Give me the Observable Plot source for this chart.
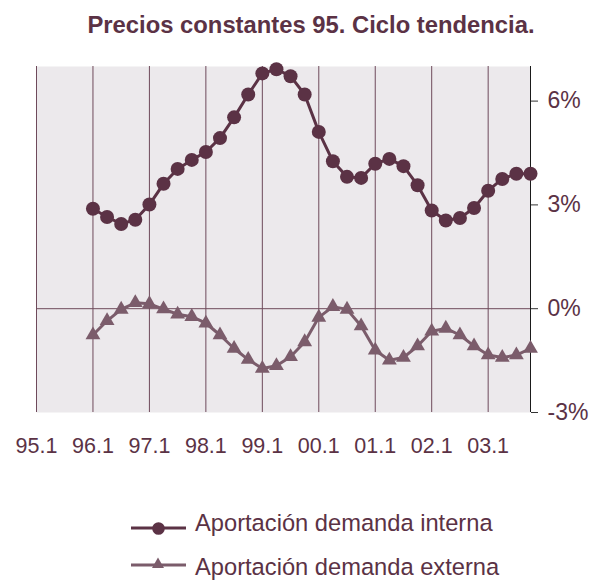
<!DOCTYPE html>
<html>
<head>
<meta charset="utf-8">
<script src="https://cdn.jsdelivr.net/npm/d3@7"></script>
<script src="https://cdn.jsdelivr.net/npm/@observablehq/plot@0.6"></script>
<style>
  html, body { margin: 0; padding: 0; background: #ffffff; }
  #wrap { position: relative; width: 591px; height: 581px; font-family: "Liberation Sans", Arial, sans-serif; }
  #wrap svg { position: absolute; left: 0; top: 0; }
</style>
</head>
<body>
<div id="wrap"></div>
<script>
const title = "Precios constantes 95. Ciclo tendencia.";
const xTickLabels = ["95.1","96.1","97.1","98.1","99.1","00.1","01.1","02.1","03.1"];
const yTicks = [-3, 0, 3, 6];
const seriesNames = ["Aportación demanda interna", "Aportación demanda externa"];
// quarterly values from 96.1 to 03.4
const interna = [2.89, 2.65, 2.45, 2.57, 3.01, 3.61, 4.04, 4.30, 4.53, 4.93, 5.53, 6.19,
                 6.80, 6.92, 6.72, 6.19, 5.11, 4.26, 3.81, 3.78, 4.19, 4.33, 4.12, 3.57,
                 2.84, 2.55, 2.62, 2.91, 3.41, 3.75, 3.90, 3.90];
const externa = [-0.76, -0.35, -0.02, 0.17, 0.14, -0.01, -0.16, -0.23, -0.42, -0.76, -1.15, -1.47,
                 -1.73, -1.65, -1.39, -0.96, -0.25, 0.06, -0.02, -0.50, -1.20, -1.49, -1.41, -1.08,
                 -0.65, -0.57, -0.76, -1.08, -1.34, -1.41, -1.34, -1.15];

const firstQuarter = 4; // 96.1 is the 5th quarter after 95.1
const lastQuarter = 35; // 03.4
const cInt = "#5b3245", cExt = "#7b5c6b", cText = "#5b3245", cGrid = "#6e4a5b", bg = "#ece9ec";

const dInt = interna.map((v, i) => ({q: firstQuarter + i, v}));
const dExt = externa.map((v, i) => ({q: firstQuarter + i, v}));
const yearTicks = xTickLabels.map((_, i) => i * 4);

const chart = Plot.plot({
  width: 591, height: 581,
  marginLeft: 36, marginRight: 61, marginTop: 66, marginBottom: 169,
  style: {fontFamily: '"Liberation Sans", Arial, sans-serif', background: "transparent"},
  x: {domain: [0, lastQuarter], axis: null},
  y: {domain: [-3, 7], axis: null},
  marks: [
    Plot.frame({fill: bg, stroke: null}),
    Plot.ruleX(yearTicks, {stroke: cGrid, strokeWidth: 1}),
    Plot.ruleY([0], {stroke: cGrid, strokeWidth: 1}),
    Plot.ruleX([lastQuarter], {stroke: "#1a1a1a", strokeWidth: 1}),
    Plot.axisY({anchor: "right", ticks: yTicks, tickFormat: d => d + "%", tickSize: 7, tickPadding: 10,
                fontSize: 23, fill: cText, stroke: "#333", label: null}),
    Plot.axisX({ticks: yearTicks, tickFormat: d => xTickLabels[d / 4], tickSize: 0, tickPadding: 25,
                fontSize: 21.5, fill: cText, label: null}),
    Plot.line(dExt, {x: "q", y: "v", stroke: cExt, strokeWidth: 3}),
    Plot.dot(dExt, {x: "q", y: "v", symbol: "triangle", r: 5.5, fill: cExt, stroke: "none"}),
    Plot.line(dInt, {x: "q", y: "v", stroke: cInt, strokeWidth: 3}),
    Plot.dot(dInt, {x: "q", y: "v", r: 7, fill: cInt, stroke: "none"})
  ]
});
const wrap = document.getElementById("wrap");
wrap.appendChild(chart);

// title and legend overlay
const ov = d3.select(wrap).append("svg").attr("width", 591).attr("height", 581)
  .style("font-family", '"Liberation Sans", Arial, sans-serif');
ov.append("text").attr("x", 311).attr("y", 33).attr("text-anchor", "middle")
  .attr("font-size", 23.8).attr("font-weight", "bold").attr("fill", cText).text(title);

// legend item 1
ov.append("line").attr("x1", 131).attr("x2", 186).attr("y1", 528).attr("y2", 528)
  .attr("stroke", cInt).attr("stroke-width", 3);
ov.append("circle").attr("cx", 158.5).attr("cy", 528.5).attr("r", 6.3).attr("fill", cInt);
ov.append("text").attr("x", 195).attr("y", 531).attr("font-size", 23.7).attr("fill", cText).text(seriesNames[0]);
// legend item 2
ov.append("line").attr("x1", 131).attr("x2", 186).attr("y1", 565).attr("y2", 565)
  .attr("stroke", cExt).attr("stroke-width", 3);
ov.append("path").attr("d", "M158,557.5L164,568L152,568Z").attr("fill", cExt);
ov.append("text").attr("x", 195).attr("y", 575).attr("font-size", 23.7).attr("fill", cText).text(seriesNames[1]);
</script>
</body>
</html>
